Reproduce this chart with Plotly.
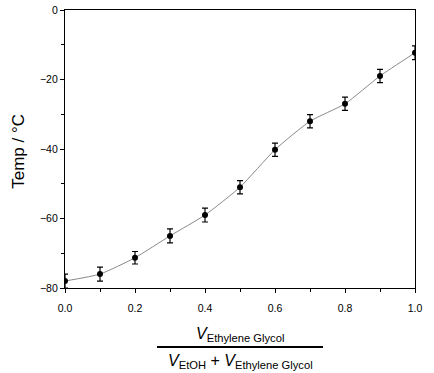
import plotly.graph_objects as go

fraction = [0.0, 0.1, 0.2, 0.3, 0.4, 0.5, 0.6, 0.7, 0.8, 0.9, 1.0]
temp = [-78, -76, -71.3, -65, -59, -51, -40.2, -32, -27, -19, -12.3]
err = [2, 2, 1.8, 2, 2, 1.9, 1.9, 1.9, 1.9, 1.9, 2]

W, H = 434, 373
L, R, T, B = 65, 19, 10, 85
PW, PH = W - L - R, H - T - B  # 350 x 278

fig = go.Figure()
fig.add_trace(go.Scatter(
    x=fraction, y=temp, mode="lines+markers",
    line=dict(color="#8a8a8a", width=1, shape="spline", smoothing=0.5),
    marker=dict(color="black", size=6),
    error_y=dict(type="data", array=err, color="black", thickness=1.2, width=3),
    showlegend=False,
))

axis_common = dict(
    showgrid=False, zeroline=False, showline=True, linecolor="black", linewidth=1.3,
    mirror=True, ticks="outside", ticklen=4, tickwidth=1, tickcolor="black",
    automargin=False, ticklabeloverflow="allow",
    tickfont=dict(family="Liberation Sans, Arial", size=10.5, color="black"),
)
fig.update_xaxes(range=[0, 1], dtick=0.2, tickformat=".1f", ticklabelstandoff=6,
                 minor=dict(dtick=0.1, ticks="outside", ticklen=3, tickcolor="black"),
                 **axis_common)
fig.update_yaxes(range=[-80, 0], dtick=20,
                 minor=dict(dtick=10, ticks="outside", ticklen=3, tickcolor="black"),
                 **axis_common)

font = "Liberation Sans, Arial"
fig.add_annotation(text="Temp / °C", xref="paper", yref="paper", x=(19 - 65) / PW, y=0.49,
                   textangle=-90, showarrow=False, xanchor="center", yanchor="middle",
                   font=dict(family=font, size=17, color="black"))
fig.add_annotation(text="<i>V</i><sub>Ethylene Glycol</sub>", xref="paper", yref="paper",
                   x=0.5, y=(288 - 346) / PH, showarrow=False,
                   xanchor="center", yanchor="bottom",
                   font=dict(family=font, size=16, color="black"))
fig.add_annotation(text="<i>V</i><sub>EtOH</sub> + <i>V</i><sub>Ethylene Glycol</sub>",
                   xref="paper", yref="paper",
                   x=0.5, y=(288 - 350) / PH, showarrow=False,
                   xanchor="center", yanchor="top",
                   font=dict(family=font, size=16, color="black"))
fig.add_shape(type="line", xref="paper", yref="paper",
              x0=(157 - 65) / PW, x1=(323 - 65) / PW,
              y0=(288 - 347) / PH, y1=(288 - 347) / PH,
              line=dict(color="black", width=2))

fig.update_layout(width=W, height=H, margin=dict(l=L, r=R, t=T, b=B),
                  plot_bgcolor="white", paper_bgcolor="white")
fig.write_html("out.html", config={"displayModeBar": False},
               post_script="document.body.style.margin='0';document.body.style.overflow='hidden';")
